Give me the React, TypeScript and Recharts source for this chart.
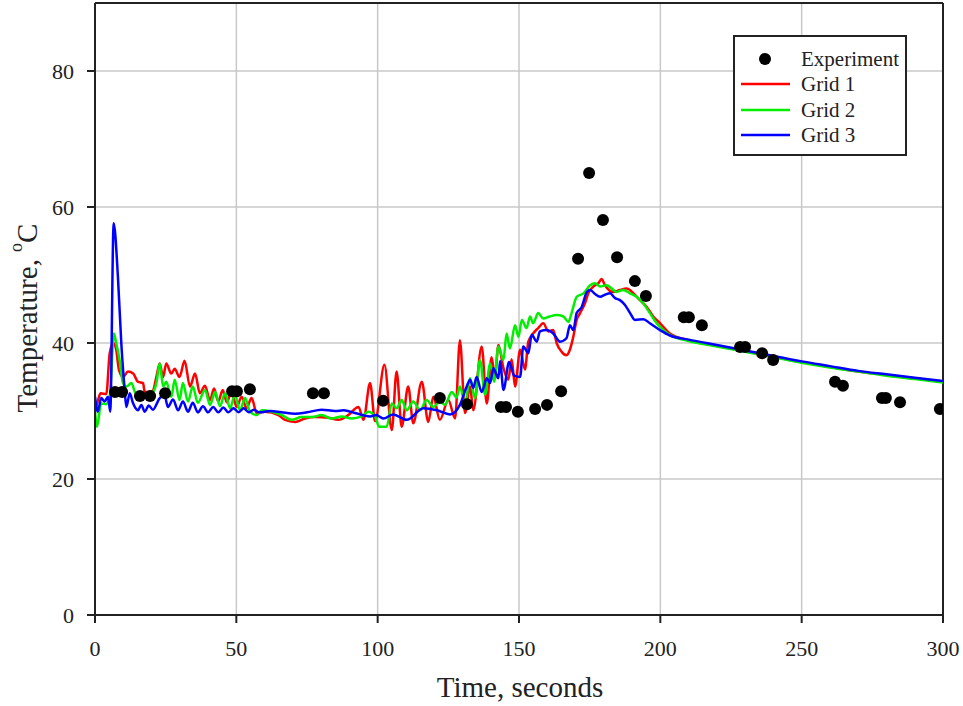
import {
  ComposedChart,
  Line,
  Scatter,
  XAxis,
  YAxis,
  CartesianGrid,
  ReferenceLine,
  Legend,
  Label,
} from "recharts";

const FONT = '"Liberation Serif", "Times New Roman", serif';

const xTicks = [0, 50, 100, 150, 200, 250, 300];
const yTicks = [0, 20, 40, 60, 80];

// measured points, [time s, temperature C]
const experiment = [
  [7.1, 32.8], [9.6, 32.8], [15.9, 32.2], [19.5, 32.2], [24.8, 32.6],
  [48.5, 32.9], [50.2, 32.9], [54.8, 33.2], [77.1, 32.6], [81.0, 32.6],
  [101.9, 31.5], [122.0, 31.9], [131.6, 31.0], [143.6, 30.6], [145.4, 30.6],
  [149.6, 29.9], [155.7, 30.3], [159.9, 30.9], [164.9, 32.9], [170.9, 52.4],
  [174.8, 65.0], [179.7, 58.1], [184.7, 52.6], [191.0, 49.1], [194.9, 46.9],
  [208.3, 43.8], [210.1, 43.8], [214.7, 42.6], [228.2, 39.4], [230.0, 39.4],
  [236.0, 38.5], [239.9, 37.5], [261.8, 34.3], [264.6, 33.7], [278.4, 31.9],
  [279.8, 31.9], [284.8, 31.3], [298.9, 30.3],
];

const grid1 = [
  [0, 30], [1, 31.5], [2, 32.6], [4, 32.5], [5.2, 38.5], [6.5, 40], [7.5, 39],
  [8.5, 36], [9.9, 35], [11.7, 35.8], [13.5, 35.5], [15.2, 34.3], [17, 34.1],
  [17.6, 32.8], [19.4, 32.8], [20.5, 33], [21.7, 35], [22.9, 37], [24.1, 35],
  [25.2, 37], [27, 35.5], [28.2, 36.2], [29.9, 35], [31.7, 37.4], [33.6, 33.6],
  [35.4, 35.5], [37.1, 32.6], [38.9, 33.7], [40.7, 31.6], [42.1, 33.3],
  [43.6, 31.4], [45.2, 33.1], [46.6, 31.3], [48.3, 32.8], [50.1, 30.6],
  [51.9, 32.1], [53.6, 30.4], [55.4, 31.9], [57.2, 29.7], [60.1, 29.9],
  [64.9, 29.4], [67.2, 28.7], [70.8, 28.4], [74.3, 28.9], [77.8, 29.1],
  [82.5, 29.0], [86.1, 28.7], [89.6, 29.4], [93.2, 30.6], [95, 28.7],
  [97.3, 34.1], [99.1, 28.5], [102.4, 36.8], [105, 27.2], [106.7, 35.8],
  [108.5, 27.7], [110.8, 33.6], [112.6, 28.2], [115.6, 34.3], [117.9, 28.4],
  [119.7, 32.1], [122, 28.7], [125, 31.6], [127.4, 28.9], [129.1, 40.4],
  [130.9, 29.7], [132.7, 33.6], [133.8, 30.1], [136.8, 39.5], [138.6, 31.1],
  [140.3, 37.9], [141.5, 34.9], [142.7, 39.7], [144.5, 36.3], [146.2, 34.6],
  [147.4, 37.6], [148.6, 33.6], [150.4, 39], [152.1, 36.1], [153.3, 40.2],
  [155, 41.4], [156.8, 42.2], [158.6, 42.9], [160.4, 41.7], [162.1, 41.9],
  [163.3, 40], [165.1, 38.7], [166.8, 38.2], [168, 39], [169.2, 40.9],
  [170.4, 43.4], [171.6, 44.4], [173.4, 45.9], [174.5, 47.3], [176.3, 48.3],
  [178.1, 48.8], [179.2, 49.4], [180.4, 48.5], [183.4, 47.5], [185.7, 47.8],
  [188.1, 48], [190.5, 47.3], [192.8, 46.3], [195.2, 45.3], [197.5, 43.9],
  [199.9, 42.9], [203.4, 41.4], [210, 40.4], [220, 39.6], [230, 38.8],
  [240, 38.0], [250, 37.2], [260, 36.5], [270, 35.8], [280, 35.3],
  [290, 34.8], [300, 34.3],
];

const grid2 = [
  [0, 30], [0.7, 27.7], [2.2, 31.1], [3.9, 31], [5.2, 32.1], [6.7, 41.4],
  [7.5, 40], [8.7, 37.5], [9.9, 34.1], [11.1, 33.6], [12.9, 34.1], [14.1, 32.8],
  [15.8, 32.1], [18.2, 32.4], [20.5, 32.8], [21.7, 34.1], [22.9, 37],
  [24.1, 33.6], [25.2, 34.3], [27, 32.1], [28.2, 34.6], [29.9, 31.6],
  [31.1, 34.1], [32.9, 31.4], [34.6, 33.6], [36.4, 31.2], [38.9, 33.1],
  [40.7, 30.9], [42.5, 32.8], [44.2, 30.7], [46, 32.6], [47.8, 30.4],
  [49.5, 32.4], [51.3, 30.1], [53.1, 31.9], [54.8, 29.9], [57.2, 29.4],
  [59, 30.1], [62.5, 29.9], [66.1, 29.4], [69.6, 28.7], [73.1, 29.1],
  [76.7, 29.1], [80.2, 29.4], [83.7, 28.9], [87.3, 29.2], [90.8, 28.9],
  [94.3, 29.2], [96.7, 29.9], [99.1, 29.2], [100.5, 27.7], [103.2, 27.7],
  [105, 31.1], [106.7, 30.4], [108.5, 31.6], [110.3, 30.1], [112.6, 31.4],
  [115, 30.1], [117.3, 31.6], [119.7, 30.6], [122, 31.4], [123.8, 30.9],
  [126.2, 32.8], [127.9, 32], [129.1, 33.6], [130.9, 31.1], [132.7, 34.8],
  [134.4, 31.9], [136.2, 37.5], [138, 32.4], [139.8, 37], [141.2, 34.3],
  [142.7, 39.5], [144.5, 37.5], [145.6, 41.4], [146.8, 39.2], [148.6, 42.6],
  [149.8, 40.9], [151, 43.4], [152.7, 42.2], [153.9, 43.9], [155, 42.9],
  [156.8, 44.4], [158.6, 43.6], [160.9, 43.9], [163.3, 44.1], [165.7, 43.9],
  [167.5, 43.1], [168.6, 44.4], [170.4, 46.8], [172.8, 47.3], [175.2, 48.5],
  [176.9, 48.8], [178.7, 48.3], [181, 48.5], [182.8, 48], [184.5, 47.5],
  [186.9, 47.8], [189.3, 47.3], [191.6, 46.8], [194, 45.8], [196.3, 44.4],
  [198.7, 42.9], [201.1, 41.9], [203.4, 41.2], [210, 40.3], [220, 39.5],
  [230, 38.7], [240, 37.9], [250, 37.1], [260, 36.4], [270, 35.8],
  [280, 35.2], [290, 34.7], [300, 34.2],
];

const grid3 = [
  [0, 32.1], [1, 29.9], [2.2, 31.9], [3.4, 31.4], [4.6, 32.1], [5.4, 29.9],
  [6.6, 57.6], [8.1, 49.8], [9.3, 40], [10.5, 33.1], [11.1, 30.6], [12.3, 32.6],
  [13.4, 31.2], [15.2, 30.1], [16.4, 30.9], [17.6, 29.9], [19, 30.8],
  [20.5, 30.2], [22.9, 31.9], [24.6, 32.3], [25.8, 30.6], [27.6, 31.7],
  [29.4, 30.1], [31.1, 31.4], [32.9, 29.9], [34.6, 31.2], [36.4, 29.8],
  [38.2, 30.7], [40, 29.8], [41.8, 30.6], [43.6, 29.8], [45.4, 30.5],
  [47.2, 29.8], [49, 30.4], [50.8, 29.8], [52.6, 30.4], [54.4, 29.8],
  [56.2, 30.2], [58, 29.8], [62, 30], [66, 29.8], [70.8, 29.6], [75, 29.8],
  [80.2, 30.2], [84.9, 30.0], [88, 30.1], [92, 29.7], [97.3, 29.2],
  [99.5, 29.4], [102, 28.9], [105.5, 29.5], [110.3, 28.7], [116.2, 30.4],
  [121, 30.1], [125.6, 29.5], [129.1, 30.9], [131.5, 33.6], [132.7, 34.6],
  [133.8, 33.4], [135, 35], [136.8, 32.8], [138.6, 34.8], [139.8, 34.1],
  [140.9, 36.3], [142.7, 34.8], [143.3, 37.3], [144.5, 33.1], [146.5, 37.2],
  [148.3, 35.2], [150.4, 35], [151.5, 39.5], [153.3, 38.5], [154.5, 41.2],
  [156.3, 40.2], [157.4, 41.7], [159.8, 41.9], [162.1, 41.4], [164.5, 40.2],
  [166.8, 40.7], [168, 42.6], [169.2, 41.9], [170.4, 44.4], [172.2, 45.3],
  [174, 47.5], [175.2, 47.8], [176.9, 47.2], [178.7, 46.8], [180.4, 47.1],
  [182.2, 47.3], [184, 46.6], [185.7, 46.3], [187.5, 45.6], [189.3, 44.4],
  [191, 43.4], [194, 43.5], [196.3, 42.9], [199.9, 41.9], [203.4, 41.1],
  [210, 40.5], [220, 39.7], [230, 38.9], [240, 38.1], [250, 37.3],
  [260, 36.6], [270, 35.9], [280, 35.4], [290, 34.9], [300, 34.4],
];

const toRows = (pts: number[][]) => pts.map(([t, v]) => ({ t, v }));

const legendItems = [
  { name: "Experiment", color: "#000", dot: true },
  { name: "Grid 1", color: "#ff0000", dot: false },
  { name: "Grid 2", color: "#00ee00", dot: false },
  { name: "Grid 3", color: "#0000ff", dot: false },
];

function LegendBox() {
  return (
    <div
      style={{
        border: "2px solid #222",
        background: "#fff",
        boxSizing: "border-box",
        width: 174,
        height: 121,
        paddingTop: 9,
        fontFamily: FONT,
        fontSize: 21,
        color: "#222",
      }}
    >
      {legendItems.map((it) => (
        <div key={it.name} style={{ display: "flex", alignItems: "center", height: 25.5 }}>
          <svg width={66} height={20} style={{ flex: "none" }}>
            {it.dot ? (
              <circle cx={30} cy={10} r={6} fill={it.color} />
            ) : (
              <line x1={6} x2={55} y1={10} y2={10} stroke={it.color} strokeWidth={2.5} />
            )}
          </svg>
          <span style={{ lineHeight: "22px" }}>{it.name}</span>
        </div>
      ))}
    </div>
  );
}

const tickStyle = { fontFamily: FONT, fontSize: 22, fill: "#222" };

export default function App() {
  return (
    <div style={{ position: "absolute", left: 0, top: 0, width: 963, height: 706, background: "#fff" }}>
      <ComposedChart width={963} height={706} margin={{ top: 3, right: 20, bottom: 0, left: 35 }}>
        <CartesianGrid stroke="#c8c8c8" strokeWidth={1.5} />
        <XAxis
          type="number"
          dataKey="t"
          domain={[0, 300]}
          ticks={xTicks}
          height={91}
          tickSize={8}
          tickMargin={17}
          tick={tickStyle}
          stroke="#222"
          strokeWidth={2}
          allowDataOverflow
        >
          <Label
            content={() => (
              <text x={520} y={697} textAnchor="middle" fontFamily={FONT} fontSize={29} fill="#222">
                Time, seconds
              </text>
            )}
          />
        </XAxis>
        <YAxis
          type="number"
          dataKey="v"
          domain={[0, 90]}
          ticks={yTicks}
          width={60}
          tickSize={8}
          tickMargin={13}
          tick={tickStyle}
          stroke="#222"
          strokeWidth={2}
          allowDataOverflow
        >
          <Label
            content={() => (
              <text
                x={27}
                y={318}
                transform="rotate(-90 27 318)"
                textAnchor="middle"
                dominantBaseline="central"
                fontFamily={FONT}
                fontSize={29}
                fill="#222"
              >
                Temperature,{" "}
                <tspan dy={-11} fontSize={18}>o</tspan>
                <tspan dy={11}>C</tspan>
              </text>
            )}
          />
        </YAxis>
        <ReferenceLine y={90} stroke="#222" strokeWidth={2} />
        <ReferenceLine x={300} stroke="#222" strokeWidth={2} />
        <Scatter
          name="Experiment"
          data={toRows(experiment)}
          fill="#000"
          isAnimationActive={false}
          shape={(p: any) => <circle cx={p.cx} cy={p.cy} r={6} fill="#000" />}
        />
        <Line
          name="Grid 1"
          data={toRows(grid1)}
          dataKey="v"
          type="monotone"
          stroke="#ff0000"
          strokeWidth={2.5}
          dot={false}
          isAnimationActive={false}
        />
        <Line
          name="Grid 2"
          data={toRows(grid2)}
          dataKey="v"
          type="monotone"
          stroke="#00ee00"
          strokeWidth={2.5}
          dot={false}
          isAnimationActive={false}
        />
        <Line
          name="Grid 3"
          data={toRows(grid3)}
          dataKey="v"
          type="monotone"
          stroke="#0000ff"
          strokeWidth={2.5}
          dot={false}
          isAnimationActive={false}
        />
        <Legend
          layout="vertical"
          align="center"
          verticalAlign="middle"
          content={() => <LegendBox />}
          wrapperStyle={{ position: "absolute", left: 733, top: 35, width: 174, height: 121 }}
        />
      </ComposedChart>
    </div>
  );
}
